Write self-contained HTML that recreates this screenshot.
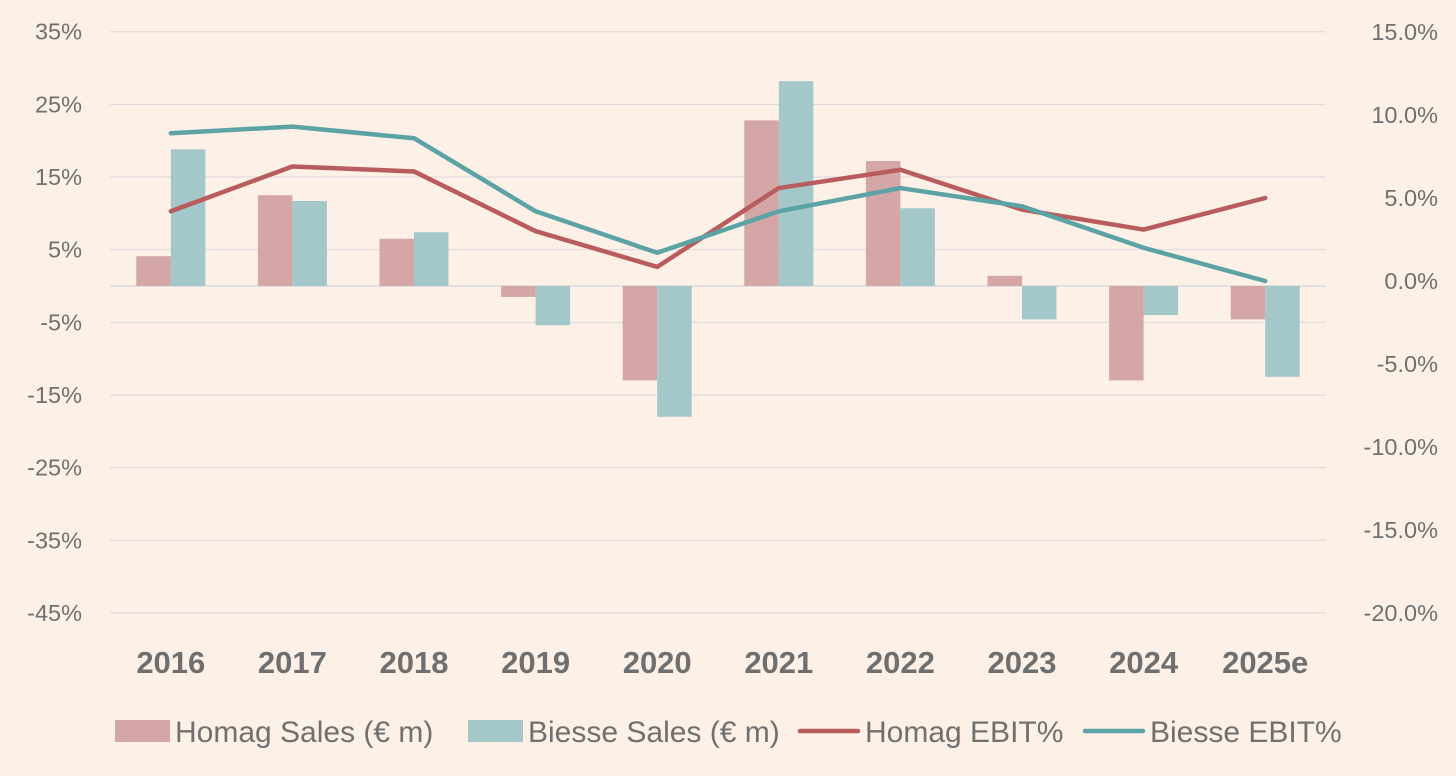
<!DOCTYPE html>
<html><head><meta charset="utf-8"><style>
html,body{margin:0;padding:0;background:#fdf0e6;}
svg{display:block;font-family:"Liberation Sans","DejaVu Sans",sans-serif;}
</style></head><body>
<svg id="chart" width="1456" height="776"></svg>
<script>
const categories=["2016","2017","2018","2019","2020","2021","2022","2023","2024","2025e"];
const homagSales=[4.1,12.5,6.5,-1.5,-13,22.8,17.2,1.4,-13,-4.6];
const biesseSales=[18.8,11.7,7.4,-5.4,-18,28.2,10.7,-4.6,-4,-12.5];
const homagEbit=[4.2,6.9,6.6,3.0,0.85,5.6,6.7,4.3,3.1,5.0];
const biesseEbit=[8.9,9.3,8.6,4.2,1.7,4.2,5.6,4.5,2.0,0.0];
const leftTicks=[35,25,15,5,-5,-15,-25,-35,-45];
const rightTicks=[15,10,5,0,-5,-10,-15,-20];
const NS="http://www.w3.org/2000/svg";
const svg=document.getElementById('chart');
function mk(t,a,p){const e=document.createElementNS(NS,t);for(const k in a)e.setAttribute(k,a[k]);(p||svg).appendChild(e);return e;}
const x0=110,x1=1326,band=(x1-x0)/categories.length;
const yL=v=>286-v*7.265;
const yR=v=>281-v*16.6;
const xc=i=>x0+band*(i+0.5);
leftTicks.forEach(t=>{
  const g=mk('line',{x1:x0,x2:x1,y1:yL(t),y2:yL(t),stroke:'#d9d9de','stroke-width':1});
  
  
  const tx=mk('text',{x:82,y:yL(t)+8,'text-anchor':'end','font-size':23.5,fill:'#707070'});
  tx.textContent=t+'%';
  
  
});
const zl=mk('line',{x1:x0,x2:x1,y1:yL(0),y2:yL(0),stroke:'#d9d9de','stroke-width':1.5});


rightTicks.forEach(t=>{
  const tx=mk('text',{x:1438,y:yR(t)+8,'text-anchor':'end','font-size':23.5,fill:'#707070'});
  tx.textContent=t.toFixed(1)+'%';
  
  
});
const bw=34.5;
categories.forEach((c,i)=>{
  const h=homagSales[i],b=biesseSales[i];
  const r1=mk('rect',{x:xc(i)-bw,y:Math.min(yL(h),yL(0)),width:bw,height:Math.abs(yL(h)-yL(0)),fill:'#d4a6a6'});
  
  
  const r2=mk('rect',{x:xc(i),y:Math.min(yL(b),yL(0)),width:bw,height:Math.abs(yL(b)-yL(0)),fill:'#a4c8ca'});
  
  
  const tx=mk('text',{x:xc(i),y:673,'text-anchor':'middle','font-size':31,'font-weight':'bold',fill:'#6f6f6f'});
  tx.textContent=c;
  
  
});
function line(vals,col,name){
  const p=mk('polyline',{points:vals.map((v,i)=>xc(i)+','+yR(v)).join(' '),fill:'none',stroke:col,'stroke-width':4.5,'stroke-linejoin':'round','stroke-linecap':'round'});
  
  
}
line(homagEbit,'#b85c5d','homag-ebit-line');
line(biesseEbit,'#5ba3a5','biesse-ebit-line');
const leg=[['rect','#d4a6a6','Homag Sales (€ m)',115],['rect','#a4c8ca','Biesse Sales (€ m)',468],['line','#b85c5d','Homag EBIT%',800],['line','#5ba3a5','Biesse EBIT%',1085]];
leg.forEach(([k,col,label,x])=>{
  const g=mk('g',{});
  
  
  if(k==='rect')mk('rect',{x:x,y:720,width:55,height:22,fill:col},g);
  else mk('line',{x1:x,x2:x+58,y1:731,y2:731,stroke:col,'stroke-width':4.5,'stroke-linecap':'round'},g);
  const t=mk('text',{x:x+(k==='rect'?60:65),y:742,'font-size':30,fill:'#707070'},g);
  t.textContent=label;
});
</script>
</body></html>
